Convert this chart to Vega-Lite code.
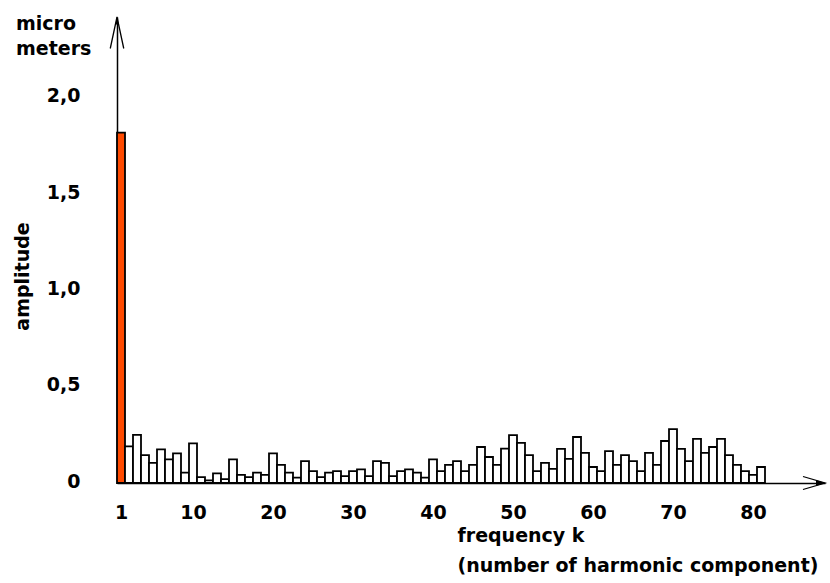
{
  "$schema": "https://vega.github.io/schema/vega-lite/v6.json",
  "width": 708,
  "height": 466,
  "autosize": {"type": "none"},
  "padding": {"left": 117, "top": 17, "right": 5, "bottom": 100},
  "background": "white",
  "config": {"view": {"stroke": null}, "font": "DejaVu Sans"},
  "title": {
    "text": ["micro", "meters"],
    "anchor": "start",
    "frame": "group",
    "dx": -101,
    "dy": 48,
    "offset": 3,
    "baseline": "top",
    "lineHeight": 25,
    "font": "DejaVu Sans",
    "fontSize": 19,
    "fontWeight": "bold",
    "color": "black"
  },
  "data": {
    "values": [
      {"k": 1, "amplitude": 1.82}, {"k": 2, "amplitude": 0.19}, {"k": 3, "amplitude": 0.25},
      {"k": 4, "amplitude": 0.145}, {"k": 5, "amplitude": 0.104}, {"k": 6, "amplitude": 0.175},
      {"k": 7, "amplitude": 0.123}, {"k": 8, "amplitude": 0.154}, {"k": 9, "amplitude": 0.054},
      {"k": 10, "amplitude": 0.206}, {"k": 11, "amplitude": 0.03}, {"k": 12, "amplitude": 0.014},
      {"k": 13, "amplitude": 0.05}, {"k": 14, "amplitude": 0.02}, {"k": 15, "amplitude": 0.123},
      {"k": 16, "amplitude": 0.042}, {"k": 17, "amplitude": 0.03}, {"k": 18, "amplitude": 0.054},
      {"k": 19, "amplitude": 0.042}, {"k": 20, "amplitude": 0.154}, {"k": 21, "amplitude": 0.094},
      {"k": 22, "amplitude": 0.054}, {"k": 23, "amplitude": 0.028}, {"k": 24, "amplitude": 0.114},
      {"k": 25, "amplitude": 0.062}, {"k": 26, "amplitude": 0.03}, {"k": 27, "amplitude": 0.054},
      {"k": 28, "amplitude": 0.062}, {"k": 29, "amplitude": 0.036}, {"k": 30, "amplitude": 0.062},
      {"k": 31, "amplitude": 0.071}, {"k": 32, "amplitude": 0.036}, {"k": 33, "amplitude": 0.114},
      {"k": 34, "amplitude": 0.104}, {"k": 35, "amplitude": 0.036}, {"k": 36, "amplitude": 0.062},
      {"k": 37, "amplitude": 0.071}, {"k": 38, "amplitude": 0.054}, {"k": 39, "amplitude": 0.028},
      {"k": 40, "amplitude": 0.123}, {"k": 41, "amplitude": 0.062}, {"k": 42, "amplitude": 0.094},
      {"k": 43, "amplitude": 0.114}, {"k": 44, "amplitude": 0.062}, {"k": 45, "amplitude": 0.094},
      {"k": 46, "amplitude": 0.187}, {"k": 47, "amplitude": 0.135}, {"k": 48, "amplitude": 0.094},
      {"k": 49, "amplitude": 0.178}, {"k": 50, "amplitude": 0.249}, {"k": 51, "amplitude": 0.208},
      {"k": 52, "amplitude": 0.145}, {"k": 53, "amplitude": 0.062}, {"k": 54, "amplitude": 0.104},
      {"k": 55, "amplitude": 0.073}, {"k": 56, "amplitude": 0.177}, {"k": 57, "amplitude": 0.125},
      {"k": 58, "amplitude": 0.239}, {"k": 59, "amplitude": 0.156}, {"k": 60, "amplitude": 0.083},
      {"k": 61, "amplitude": 0.062}, {"k": 62, "amplitude": 0.166}, {"k": 63, "amplitude": 0.094},
      {"k": 64, "amplitude": 0.145}, {"k": 65, "amplitude": 0.114}, {"k": 66, "amplitude": 0.062},
      {"k": 67, "amplitude": 0.156}, {"k": 68, "amplitude": 0.094}, {"k": 69, "amplitude": 0.218},
      {"k": 70, "amplitude": 0.28}, {"k": 71, "amplitude": 0.177}, {"k": 72, "amplitude": 0.114},
      {"k": 73, "amplitude": 0.229}, {"k": 74, "amplitude": 0.156}, {"k": 75, "amplitude": 0.187},
      {"k": 76, "amplitude": 0.229}, {"k": 77, "amplitude": 0.145}, {"k": 78, "amplitude": 0.094},
      {"k": 79, "amplitude": 0.062}, {"k": 80, "amplitude": 0.042}, {"k": 81, "amplitude": 0.083}
    ]
  },
  "layer": [
    {
      "mark": {"type": "bar", "width": 8, "stroke": "black", "strokeWidth": 1.8},
      "encoding": {
        "x": {
          "field": "k",
          "type": "quantitative",
          "scale": {"domain": [0.5, 89], "nice": false, "zero": false, "padding": 0},
          "axis": {
            "values": [1, 10, 20, 30, 40, 50, 60, 70, 80],
            "ticks": false,
            "grid": false,
            "domainColor": "black",
            "domainWidth": 1.5,
            "labelFont": "DejaVu Sans",
            "labelFontWeight": "bold",
            "labelFontSize": 19,
            "labelColor": "black",
            "labelPadding": 20,
            "labelFlush": false,
            "labelOverlap": false,
            "title": ["frequency k", "(number of harmonic component)"],
            "titleX": 340,
            "titleY": 58,
            "titleAlign": "left",
            "titleAnchor": "start",
            "titleBaseline": "alphabetic",
            "titleFont": "DejaVu Sans",
            "titleFontSize": 19,
            "titleFontWeight": "bold",
            "titleLineHeight": 30,
            "titleColor": "black"
          }
        },
        "y": {
          "field": "amplitude",
          "type": "quantitative",
          "scale": {"domain": [0, 2.42], "nice": false, "padding": 0},
          "axis": {
            "values": [0, 0.5, 1, 1.5, 2],
            "labelExpr": "datum.value === 0 ? '0' : replace(format(datum.value, '.1f'), '.', ',')",
            "ticks": false,
            "grid": false,
            "domainColor": "black",
            "domainWidth": 1.5,
            "labelFont": "DejaVu Sans",
            "labelFontWeight": "bold",
            "labelFontSize": 19,
            "labelColor": "black",
            "labelPadding": 37,
            "labelOffset": -2,
            "labelFlush": false,
            "labelOverlap": false,
            "title": "amplitude",
            "titleX": -89,
            "titleY": 259,
            "titleAngle": 270,
            "titleAlign": "center",
            "titleBaseline": "alphabetic",
            "titleFont": "DejaVu Sans",
            "titleFontSize": 19,
            "titleFontWeight": "bold",
            "titleColor": "black"
          }
        },
        "fill": {
          "condition": {"test": "datum.k === 1", "value": "#ff4a00"},
          "value": "white"
        }
      }
    },
    {
      "data": {"values": [{}]},
      "mark": {"type": "point", "shape": "M -0.45 2.1 L 0 0 L 0.45 2.1", "size": 900, "filled": false, "stroke": "black", "strokeWidth": 1.3, "opacity": 1},
      "encoding": {"x": {"datum": 0.5}, "y": {"datum": 2.42}}
    },
    {
      "data": {"values": [{}]},
      "mark": {"type": "point", "shape": "M -0.12 0.5 L 0 0 L 0.12 0.5 Z", "size": 900, "filled": true, "fill": "black", "opacity": 1},
      "encoding": {"x": {"datum": 0.5}, "y": {"datum": 2.42}}
    },
    {
      "data": {"values": [{}]},
      "mark": {"type": "point", "shape": "M -2.2 -0.65 L 0 0 L -2.2 0.65", "size": 400, "filled": false, "stroke": "black", "strokeWidth": 1.3, "opacity": 1},
      "encoding": {"x": {"datum": 89}, "y": {"datum": 0}}
    },
    {
      "data": {"values": [{}]},
      "mark": {"type": "point", "shape": "M -0.9 -0.3 L 0 0 L -0.9 0.3 Z", "size": 400, "filled": true, "fill": "black", "opacity": 1},
      "encoding": {"x": {"datum": 89}, "y": {"datum": 0}}
    }
  ]
}
